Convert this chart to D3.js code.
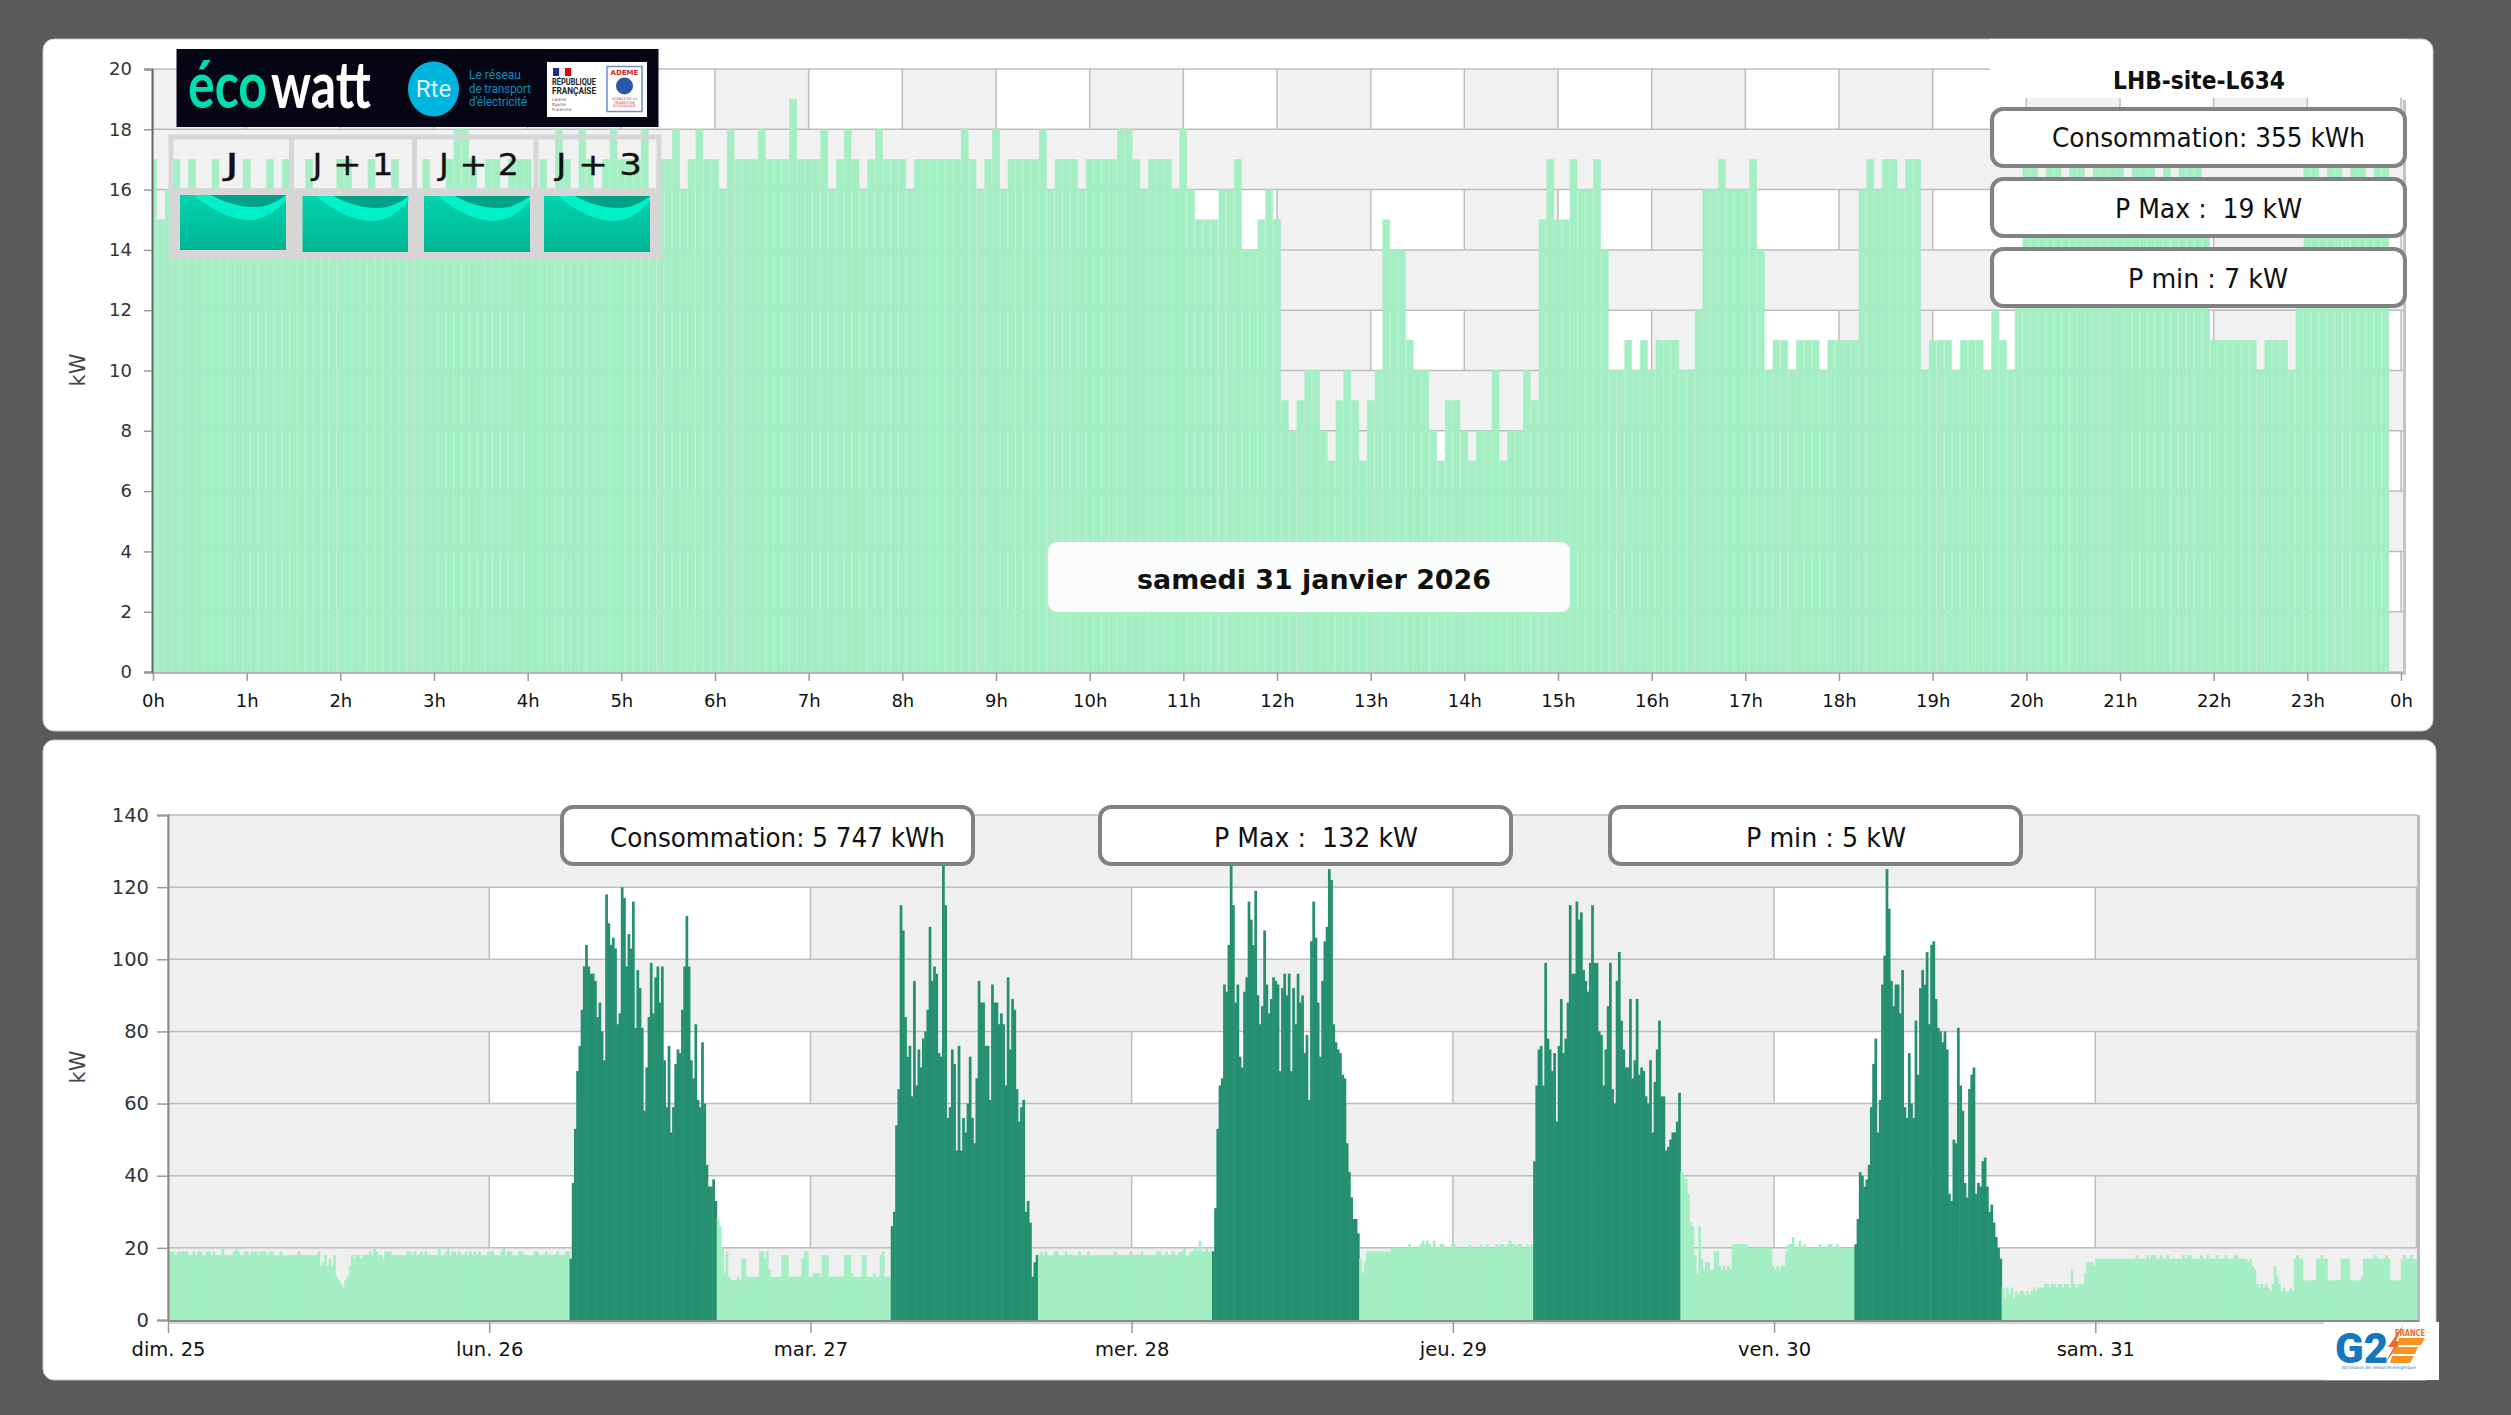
<!DOCTYPE html>
<html lang="fr"><head><meta charset="utf-8"><title>LHB-site-L634</title>
<script src="https://cdn.jsdelivr.net/npm/d3@7"></script>
<style>html,body{margin:0;padding:0;background:#5a5a5a}svg{display:block}text{font-family:"DejaVu Sans",sans-serif}</style>
</head><body><svg id="c" width="2511" height="1415"></svg>
<script>
const hourLabels = ["0h","1h","2h","3h","4h","5h","6h","7h","8h","9h","10h","11h","12h","13h","14h","15h","16h","17h","18h","19h","20h","21h","22h","23h","0h"];
const powerTicksDay = [0,2,4,6,8,10,12,14,16,18,20];
const powerTicksWeek = [0,20,40,60,80,100,120,140];
const dayLabels = ["dim. 25","lun. 26","mar. 27","mer. 28","jeu. 29","ven. 30","sam. 31"];
const dayValues = [
17,15,16,17,16,17,16,16,17,16,16,16,17,16,16,17,16,17,16,16,17,16,16,16,
17,17,16,16,17,16,16,17,16,16,16,17,16,16,17,18,18,17,16,17,17,16,17,17,
17,16,17,16,18,17,16,18,17,16,17,18,17,17,17,18,16,17,17,18,16,17,18,17,
17,16,18,17,17,17,18,17,17,17,19,17,17,17,18,16,17,18,17,16,17,18,17,17,
17,16,17,17,17,17,17,17,18,17,16,17,18,16,17,17,17,17,18,16,17,17,17,16,
17,17,17,17,18,18,17,16,17,17,17,16,18,16,15,15,15,16,16,17,14,14,15,16,
15,9,8,9,10,10,8,7,9,10,9,7,9,10,15,14,14,11,10,10,8,7,9,9,
8,7,8,8,10,7,8,8,10,9,15,17,15,15,17,16,16,17,14,10,10,11,10,11,10,11,
11,11,10,10,12,16,16,17,16,16,16,17,14,10,11,11,10,11,11,11,10,11,11,11,
11,16,17,16,17,17,16,17,17,10,11,11,11,10,11,11,11,10,12,11,10,14,17,17,
16,17,17,16,17,17,16,17,17,17,17,16,17,17,17,16,17,16,17,17,17,16,11,11,
11,11,11,11,10,11,11,11,10,14,17,17,16,17,17,16,17,17,16,17,17];
const nightSunday = [
19,19,19,18,19,19,19,19,19,18,18,19,18,19,19,18,18,19,19,18,
19,18,18,18,20,18,18,18,18,19,20,19,18,18,19,19,18,19,19,19,
18,19,19,19,18,19,19,18,18,18,19,18,18,18,18,18,18,18,19,18,
18,18,18,18,18,18,18,19,15,16,18,15,17,15,18,12,11,10,9,11,
12,15,18,17,18,18,17,18,18,18,19,18,20,19,18,18,17,19,19,19,
18,18,18,18,18,18,18,19,19,18,19,18,18,19,18,19,18,18,18,18,
18,20,18,18,19,20,18,19,19,18,19,18,18,19,18,19,18,19,18,19,
18,18,18,19,19,19,18,18,18,19,20,18,19,19,18,18,18,19,19,18,
18,18,18,18,19,19,18,18,18,19,18,18,18,18,19,18,18,18,19,19];
const workMonday = [17,38,53,69,76,86,98,104,98,96,96,94,84,88,80,72,118,110,104,106,103,82,85,120,117,98,107,103,116,81,97,92,81,58,70,84,99,85,95,98,88,98,72,59,76,52,59,71,75,74,86,98,112,98,72,67,82,61,59,77,60,43,37,37,39,33];
const offMonday = [
28,26,20,13,19,12,11,11,11,12,11,17,17,12,12,12,12,12,12,19,
19,17,19,14,12,12,12,12,12,18,18,18,12,12,12,12,12,12,17,19,
19,12,12,13,13,13,12,18,18,18,12,12,12,12,12,12,12,18,18,18,
13,12,12,12,12,18,18,12,12,12,13,12,12,18,19,12,12,12];
const workTuesday = [26,30,54,64,115,108,84,73,76,62,94,65,75,70,78,80,86,109,94,98,96,74,73,128,115,56,59,75,71,47,76,47,56,52,60,73,56,49,67,94,88,88,76,76,61,93,88,88,82,85,82,65,95,75,89,86,64,55,59,61,30,33,27,12,16,18];
const offTuesday = [
18,19,18,19,18,18,18,19,19,18,18,18,19,18,18,18,18,18,19,18,
18,18,19,18,18,18,18,18,18,18,18,18,18,18,19,18,18,18,18,18,
18,19,18,18,18,18,19,18,18,18,18,18,18,19,19,18,18,19,18,18,
19,18,18,19,19,20,18,18,19,19,20,19,22,19,19,20,19,19];
const workWednesday = [19,31,53,65,67,93,91,104,132,115,88,93,73,70,91,95,116,111,104,119,90,82,87,108,93,85,89,95,94,93,69,92,96,90,96,69,92,82,96,88,90,74,79,61,105,116,106,88,73,94,105,109,125,122,82,77,75,74,68,67,49,41,34,28,28,24];
const offWednesday = [
17,13,16,19,19,19,19,19,19,19,19,19,19,19,20,20,20,20,20,20,
20,20,21,20,20,20,20,21,22,21,22,21,20,22,20,20,21,21,20,20,
20,21,21,20,20,20,20,20,20,21,20,20,20,20,21,20,20,21,20,20,
20,21,20,21,21,20,21,22,21,21,20,21,21,20,20,21,20,21];
const workThursday = [44,65,75,76,65,99,78,75,69,74,55,76,89,74,78,88,115,96,96,116,111,113,97,94,91,99,115,99,99,80,79,65,75,87,99,64,60,94,102,83,75,70,70,89,67,72,89,68,70,69,62,60,72,52,66,75,83,62,62,47,48,50,52,52,55,63];
const offThursday = [
41,40,39,35,27,26,18,13,26,17,14,16,16,14,14,19,19,15,14,15,
14,15,14,21,21,21,21,21,21,21,20,20,20,20,20,20,20,20,20,20,
20,15,14,15,14,15,15,19,21,21,23,20,20,22,20,21,20,20,20,20,
20,20,21,20,20,20,21,21,20,20,21,20,20,20,20,20,20,20];
const workFriday = [21,28,41,40,37,39,43,59,71,78,52,61,93,101,125,114,94,87,93,93,85,97,59,56,74,60,56,83,68,92,97,93,102,82,104,105,89,81,80,77,80,75,35,33,50,49,81,65,58,38,34,64,68,70,35,38,37,44,45,37,30,32,27,23,20,17];
const offFridayOn = [
9,6,9,7,9,6,8,7,8,8,7,8,7,8,9,8,9,9,9,10,10,9,10,10,9,10,10,9,10,10,9,14,10,9,10,10,10,
13,16,16,16,15,17,17,
17,17,17,17,17,17,17,17,17,17,17,17,17,17,17,17,18,17,17,17,
17,18,17,18,18,17,17,18,17,17,18,17,17,17,17,17,17,18,17,18,
18,17,17,17,17,18,17,17,18,17,17,17,18,17,17,17,18,17,17,17,18,18,17,17,17,
17,16,17,15,14,10,9,10,9,10,9,8,10,15,12,10,8,9,8,8,9,8,
17,18,17,17,11,11,11,11,11,11,17,17,18,17,17,11,11,11,11,11,11,17,17,17,17,
11,11,11,11,11,12,17,17,17,17,17,18,17,17,17,17,18,17,11,11,11,11,11,
17,18,17,17,18,17,17];
const weekSeries = [
  {values:nightSunday,worked:false},{values:workMonday,worked:true},{values:offMonday,worked:false},
  {values:workTuesday,worked:true},{values:offTuesday,worked:false},{values:workWednesday,worked:true},
  {values:offWednesday,worked:false},{values:workThursday,worked:true},{values:offThursday,worked:false},
  {values:workFriday,worked:true},{values:offFridayOn,worked:false}];
const statsDay = ["Consommation: 355 kWh","P Max :  19 kW","P min : 7 kW"];
const statsWeek = ["Consommation: 5 747 kWh","P Max :  132 kW","P min : 5 kW"];
const forecastLabels = ["J","J + 1","J + 2","J + 3"];

const svg = d3.select("#c");
const LIGHT="#a4eec3", DARK="#24906f", GRID="#bdbdbd";
svg.append("rect").attr("width",2511).attr("height",1415).attr("fill","#5a5a5a");
svg.append("rect").attr("x",43).attr("y",39).attr("width",2390).attr("height",692).attr("rx",11).attr("fill","#fff").attr("stroke","#c9c9c9").attr("stroke-width",1);
svg.append("rect").attr("x",43).attr("y",740).attr("width",2393).attr("height",640).attr("rx",11).attr("fill","#fff").attr("stroke","#c9c9c9").attr("stroke-width",1);
const defs=svg.append("defs");
defs.append("clipPath").attr("id","dayClip").append("rect").attr("x",153).attr("y",60).attr("width",2250).attr("height",613);

function plotBackground(g,x,y,xCells,yCells,band,rightEdge){
  const [l,r]=[x.range()[0],rightEdge];
  const [b,t]=y.range();
  g.append("rect").attr("x",l).attr("y",t).attr("width",r-l).attr("height",b-t).attr("fill","#fff");
  g.selectAll(".vb").data(xCells.filter((d,i)=>i%2===0)).join("rect").attr("x",d=>x(d)).attr("y",t)
    .attr("width",d=>Math.min(x(d+1),r)-x(d)).attr("height",b-t).attr("fill",band);
  g.selectAll(".vl").data(xCells).join("line").attr("x1",d=>x(d)).attr("x2",d=>x(d)).attr("y1",t).attr("y2",b).attr("stroke",GRID).attr("stroke-width",1.5);
  g.selectAll(".hb").data(yCells.slice(0,-1).filter((d,i)=>i%2===0)).join("rect").attr("x",l).attr("width",r-l)
    .attr("y",d=>y(yCells[yCells.indexOf(d)+1])).attr("height",d=>y(d)-y(yCells[yCells.indexOf(d)+1])).attr("fill",band);
  g.selectAll(".hl").data(yCells).join("line").attr("x1",l).attr("x2",r).attr("y1",d=>y(d)).attr("y2",d=>y(d)).attr("stroke",GRID).attr("stroke-width",1.5);
}
function styleAxis(sel,size,col){
  sel.selectAll("text").attr("fill",col).style("font-size",size+"px");
  sel.selectAll("line").attr("stroke","#999").attr("stroke-width",1.5);
}

/* ---------- day chart ---------- */
const xDay=d3.scaleLinear().domain([0,24]).range([153,2401]);
const yDay=d3.scaleLinear().domain([0,20]).range([672,69]);
const gDay=svg.append("g");
plotBackground(gDay,xDay,yDay,d3.range(0,25),powerTicksDay,"#f1f1f1",2403);
const stepD=xDay(1/12)-xDay(0);
gDay.append("g").attr("clip-path","url(#dayClip)").selectAll(".bar").data(dayValues).join("rect").attr("class","bar")
  .attr("x",(d,i)=>xDay(i/12)-stepD/2+.45).attr("width",stepD-.9)
  .attr("y",d=>yDay(d)).attr("height",d=>yDay(0)-yDay(d))
  .attr("fill",LIGHT).attr("stroke",LIGHT).attr("stroke-opacity",.7).attr("stroke-width",.9);
gDay.append("rect").attr("x",2403).attr("y",100).attr("width",3).attr("height",575).attr("fill","#c4c4c4");
gDay.append("rect").attr("x",152).attr("y",672).attr("width",2252).attr("height",2).attr("fill","#b5b5b5");
const axDayY=gDay.append("g").attr("transform","translate(152,0)").call(d3.axisLeft(yDay).tickValues(powerTicksDay).tickSize(8).tickPadding(12));
styleAxis(axDayY,18,"#333");axDayY.select(".domain").attr("stroke","#666").attr("stroke-width",2);
const axDayX=gDay.append("g").attr("transform","translate(0,673)").call(d3.axisBottom(xDay).tickValues(d3.range(0,25)).tickFormat(i=>hourLabels[i]).tickSize(8).tickPadding(13));
styleAxis(axDayX,18,"#111");axDayX.select(".domain").remove();
svg.append("text").attr("transform","translate(85,370) rotate(-90)").attr("text-anchor","middle").style("font-size","21px").attr("fill","#444").text("kW");

/* date label */
svg.append("rect").attr("x",1048).attr("y",542).attr("width",522).attr("height",70).attr("rx",9).attr("fill","#fbfdfc");
svg.append("text").attr("x",1314).attr("y",589).attr("text-anchor","middle").attr("textLength",354).attr("lengthAdjust","spacingAndGlyphs")
  .style("font-size","27px").style("font-weight","700").attr("fill","#111").text("samedi 31 janvier 2026");

/* site panel */
svg.append("rect").attr("x",1990).attr("y",58).attr("width",417).attr("height",40).attr("rx",6).attr("fill","#fff");
svg.append("rect").attr("x",1990).attr("y",39).attr("width",417).attr("height",30).attr("fill","#fff");
svg.append("text").attr("x",2199).attr("y",89).attr("text-anchor","middle").attr("textLength",172).attr("lengthAdjust","spacingAndGlyphs")
  .style("font-size","25px").style("font-weight","700").attr("fill","#111").text("LHB-site-L634");
function statBox(x,y,w,h,label,tx,tw,base){
  svg.append("rect").attr("x",x).attr("y",y).attr("width",w).attr("height",h).attr("rx",11).attr("fill","#fff").attr("stroke","#828282").attr("stroke-width",4);
  svg.append("text").attr("x",tx).attr("y",base).attr("textLength",tw).attr("lengthAdjust","spacingAndGlyphs").attr("xml:space","preserve")
    .style("white-space","pre").style("font-size","27px").attr("fill","#111").text(label);
}
statBox(1992,109,413,57,statsDay[0],2052,313,147);
statBox(1992,179,413,57,statsDay[1],2115,187,218);
statBox(1992,249,413,57,statsDay[2],2128,160,288);

/* ecowatt banner */
const logo=svg.append("g");
logo.append("rect").attr("x",176.5).attr("y",49).attr("width",482).attr("height",78).attr("fill","#060614");
logo.append("text").attr("transform","translate(188,108) scale(1,1.3)").style("font-family","Lato,sans-serif").style("font-size","50px").style("font-weight","700").attr("fill","#00dfb2").text("éco");
logo.append("text").attr("transform","translate(271,108) scale(1,1.3)").style("font-family","Lato,sans-serif").style("font-size","50px").style("font-weight","700").attr("fill","#fff").text("watt");
logo.append("ellipse").attr("cx",433.5).attr("cy",89).attr("rx",25.5).attr("ry",27.5).attr("fill","#00b4e0");
logo.append("text").attr("x",433.5).attr("y",97).attr("text-anchor","middle").style("font-family","Roboto,sans-serif").style("font-size","24px").attr("fill","#dff6fc").text("Rte");
[["Le réseau",79,52],["de transport",92.5,62],["d'électricité",106,58]].forEach(([t,y,w])=>logo.append("text").attr("x",469).attr("y",y).attr("textLength",w).attr("lengthAdjust","spacingAndGlyphs").style("font-family","Roboto,sans-serif").style("font-size","13px").attr("fill","#0a8fbd").text(t));
logo.append("rect").attr("x",547).attr("y",62).attr("width",100).attr("height",55).attr("fill","#fff");
logo.append("rect").attr("x",553).attr("y",68).attr("width",6).attr("height",8).attr("fill","#1b2f88");
logo.append("rect").attr("x",559).attr("y",68).attr("width",6).attr("height",8).attr("fill","#eee");
logo.append("rect").attr("x",565).attr("y",68).attr("width",6).attr("height",8).attr("fill","#e1000f");
[["RÉPUBLIQUE",85],["FRANÇAISE",93.5]].forEach(([t,y])=>logo.append("text").attr("x",552).attr("y",y).attr("textLength",44).attr("lengthAdjust","spacingAndGlyphs").style("font-family","Roboto,sans-serif").style("font-size","8.5px").style("font-weight","700").attr("fill","#222").text(t));
[["Liberté",101],["Égalité",106],["Fraternité",111]].forEach(([t,y])=>logo.append("text").attr("x",552).attr("y",y).style("font-size","4px").attr("fill","#555").text(t));
logo.append("rect").attr("x",607).attr("y",66.5).attr("width",35).attr("height",45).attr("fill","#fff").attr("stroke","#6e8fc7").attr("stroke-width",1.5);
logo.append("text").attr("x",624.5).attr("y",75).attr("text-anchor","middle").style("font-size","7px").style("font-weight","700").attr("fill","#d8262c").text("ADEME");
logo.append("circle").attr("cx",624.5).attr("cy",86).attr("r",8.5).attr("fill","#2a58a8");
["AGENCE DE LA","TRANSITION","ÉCOLOGIQUE"].forEach((t,i)=>logo.append("text").attr("x",624.5).attr("y",100+i*3.6).attr("text-anchor","middle").style("font-size","3.4px").attr("fill","#d8262c").text(t));

/* J..J+3 table */
const tbl=svg.append("g");
const gr=defs.append("linearGradient").attr("id","gr").attr("x1",0).attr("x2",0).attr("y1",0).attr("y2",1);
gr.append("stop").attr("offset",0).attr("stop-color","#00d4ad");gr.append("stop").attr("offset",1).attr("stop-color","#00b494");
const G="#d6d6d6";
tbl.append("rect").attr("x",169).attr("y",189).attr("width",492).attr("height",70).attr("fill",G);
tbl.append("rect").attr("x",171).attr("y",137).attr("width",488).attr("height",54).attr("fill","none").attr("stroke",G).attr("stroke-width",5);
[291.5,414.5,536].forEach(x=>tbl.append("rect").attr("x",x-2.5).attr("y",135).attr("width",5).attr("height",60).attr("fill",G));
const cells=[[180,195,106,55,232,14],[302.5,196,105.5,56,353,81],[424,196,106,56,479,80],[544,196,106,56,599,86]];
cells.forEach(([x,y,w,h,tx,tw],i)=>{
  const c=tbl.append("g").attr("transform",`translate(${x},${y})`);
  c.append("rect").attr("width",w).attr("height",h).attr("fill","url(#gr)");
  c.append("path").attr("d","M14,0C35,18 55,25 70,25C85,25 97,15 106,5L106,0Z").attr("fill","#00f0c8");
  c.append("path").attr("d","M31,0C45,8 60,12 75,12C88,12 98,6 106,0Z").attr("fill","#00a186");
  tbl.append("text").attr("x",tx).attr("y",175).attr("text-anchor","middle").attr("textLength",tw).attr("lengthAdjust","spacingAndGlyphs")
    .style("font-size","31px").attr("fill","#111").attr("stroke","#111").attr("stroke-width",.3).text(forecastLabels[i]);
});

/* ---------- week chart ---------- */
const xWeek=d3.scaleLinear().domain([0,7]).range([168,2416.5]);
const yWeek=d3.scaleLinear().domain([0,140]).range([1320,815]);
const gWeek=svg.append("g");
plotBackground(gWeek,xWeek,yWeek,d3.range(0,8),powerTicksWeek,"#efefef",2417);
let weekBars=[];
weekSeries.forEach(s=>s.values.forEach(v=>weekBars.push({v,worked:s.worked})));
const stepW=xWeek(1/144)-xWeek(0);
gWeek.selectAll(".wb").data(weekBars).join("rect").attr("class","wb")
  .attr("x",(d,i)=>xWeek(i/144)).attr("width",stepW+.5)
  .attr("y",d=>yWeek(d.v)).attr("height",d=>yWeek(0)-yWeek(d.v))
  .attr("fill",d=>d.worked?DARK:LIGHT);
gWeek.append("rect").attr("x",2417).attr("y",815).attr("width",3).attr("height",509).attr("fill","#bcbcbc");
gWeek.append("rect").attr("x",168).attr("y",1320).attr("width",2251).attr("height",2).attr("fill","#8c8c8c");
gWeek.append("rect").attr("x",168).attr("y",1322).attr("width",2251).attr("height",2).attr("fill","#d8d8d8");
const axWeekY=gWeek.append("g").attr("transform","translate(168,0)").call(d3.axisLeft(yWeek).tickValues(powerTicksWeek).tickSize(11).tickPadding(8));
styleAxis(axWeekY,19.5,"#333");axWeekY.select(".domain").attr("stroke","#8a8a8a").attr("stroke-width",2);
const axWeekX=gWeek.append("g").attr("transform","translate(0,1321)").call(d3.axisBottom(xWeek).tickValues(d3.range(0,7)).tickFormat(i=>dayLabels[i]).tickSize(12).tickPadding(9));
styleAxis(axWeekX,19.5,"#111");axWeekX.select(".domain").remove();
svg.append("text").attr("transform","translate(85,1067) rotate(-90)").attr("text-anchor","middle").style("font-size","21px").attr("fill","#444").text("kW");
statBox(562,807,411,57,statsWeek[0],610,335,847);
statBox(1100,807,411,57,statsWeek[1],1214,204,847);
statBox(1610,807,411,57,statsWeek[2],1746,160,847);

/* G2E logo */
const g2=svg.append("g");
g2.append("rect").attr("x",2324).attr("y",1322).attr("width",115).attr("height",58).attr("fill","#fff");
g2.append("text").attr("x",2335).attr("y",1363).attr("textLength",53).attr("lengthAdjust","spacingAndGlyphs").style("font-family","Roboto,sans-serif").style("font-size","42px").style("font-weight","900").attr("fill","#1577bd").text("G2");
g2.append("path").attr("d","M2403,1325L2388,1347L2394,1347L2385,1363L2402,1341L2396,1341Z").attr("fill","#ee6a2c");
g2.append("path").attr("d","M2399,1338H2425L2421,1345H2397ZM2396,1347H2418L2415,1354H2393ZM2392,1356H2414L2410,1363H2390Z").attr("fill","#f7931e");
g2.append("text").attr("x",2395).attr("y",1336).attr("textLength",30).attr("lengthAdjust","spacingAndGlyphs").style("font-size","8px").style("font-weight","700").attr("fill","#ee6a2c").text("FRANCE");
g2.append("text").attr("x",2341).attr("y",1368.5).attr("textLength",75).attr("lengthAdjust","spacingAndGlyphs").style("font-size","4.5px").attr("fill","#1577bd").text("Optimisation des ressources énergétiques");
</script></body></html>
